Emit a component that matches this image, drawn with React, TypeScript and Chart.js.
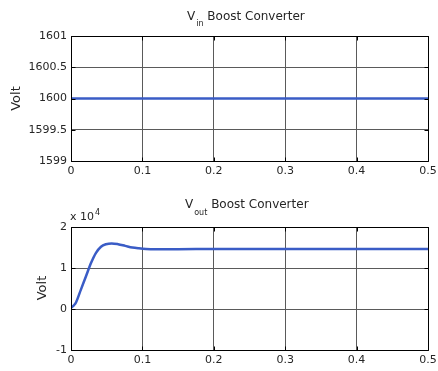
import React, { useEffect, useRef } from "react";
import { Chart, registerables } from "chart.js";

Chart.register(...registerables);

// ---- data ----
const timeTicks = [0, 0.1, 0.2, 0.3, 0.4, 0.5];

const vinTime = [0, 0.1, 0.2, 0.3, 0.4, 0.5];
const vinVolts = [1600, 1600, 1600, 1600, 1600, 1600];
const vinTicks = [1599, 1599.5, 1600, 1600.5, 1601];

const voutTime = [
  0, 0.004, 0.007, 0.014, 0.021, 0.028, 0.035, 0.042, 0.049, 0.057, 0.066,
  0.076, 0.086, 0.095, 0.105, 0.12, 0.15, 0.2, 0.3, 0.4, 0.5,
];
const voutVolts = [
  300, 900, 1600, 4800, 8000, 11200, 13700, 15200, 15800, 16000, 15800,
  15400, 15000, 14800, 14650, 14600, 14600, 14650, 14650, 14650, 14650,
];
const voutTicks = [-10000, 0, 10000, 20000];

// ---- styling ----
const FONT = "'DejaVu Sans', 'Liberation Sans', sans-serif";
const TEXT = "#262626";
const LINE = "#3a5cc6";
const GRID = "#5a5a5a";

type PanelSpec = {
  xs: number[];
  ys: number[];
  yMin: number;
  yMax: number;
  yTicks: number[];
  yLabel: (v: number) => string;
  padTop: number;
  xAxisH: number;
  titleSub: string;
  titleX: number;
  titleBase: number;
  subBase: number;
  voltX: number;
  voltY: number;
  exponent?: boolean;
};

function framePlugin(p: PanelSpec) {
  return {
    id: "frame",
    afterDraw(chart: any) {
      const ctx: CanvasRenderingContext2D = chart.ctx;
      const a = chart.chartArea;
      const xs = chart.scales.x;
      const ys = chart.scales.y;
      const L = Math.round(a.left) + 0.5;
      const R = Math.round(a.right) + 0.5;
      const T = Math.round(a.top) + 0.5;
      const B = Math.round(a.bottom) + 0.5;
      ctx.save();
      ctx.strokeStyle = "#000";
      ctx.lineWidth = 1;
      ctx.beginPath();
      ctx.rect(L, T, R - L, B - T);
      // inward tick marks
      for (const t of timeTicks) {
        const x = Math.round(xs.getPixelForValue(t)) + 0.5;
        ctx.moveTo(x, B);
        ctx.lineTo(x, B - 4);
        ctx.moveTo(x, T);
        ctx.lineTo(x, T + 4);
      }
      for (const t of p.yTicks) {
        const y = Math.round(ys.getPixelForValue(t)) + 0.5;
        ctx.moveTo(L, y);
        ctx.lineTo(L + 4, y);
        ctx.moveTo(R, y);
        ctx.lineTo(R - 4, y);
      }
      ctx.stroke();

      // title with subscript
      ctx.fillStyle = TEXT;
      ctx.textBaseline = "alphabetic";
      ctx.textAlign = "left";
      ctx.font = `12px ${FONT}`;
      let x = p.titleX;
      ctx.fillText("V", x, p.titleBase);
      x += ctx.measureText("V").width + 1;
      ctx.font = `8px ${FONT}`;
      ctx.fillText(p.titleSub, x, p.subBase);
      x += ctx.measureText(p.titleSub).width;
      ctx.font = `12px ${FONT}`;
      ctx.fillText(" Boost Converter", x, p.titleBase);

      // y label
      ctx.save();
      ctx.translate(p.voltX, p.voltY);
      ctx.rotate(-Math.PI / 2);
      ctx.textAlign = "center";
      ctx.textBaseline = "middle";
      ctx.font = `13px ${FONT}`;
      ctx.fillText("Volt", 0, 0);
      ctx.restore();

      // exponent
      if (p.exponent) {
        ctx.textAlign = "left";
        ctx.textBaseline = "alphabetic";
        ctx.font = `11px ${FONT}`;
        ctx.fillText("x 10", 70, 30);
        const w = ctx.measureText("x 10").width;
        ctx.font = `8px ${FONT}`;
        ctx.fillText("4", 70 + w + 1, 25);
      }
      ctx.restore();
    },
  };
}

function makeConfig(p: PanelSpec): any {
  const tickFont = { family: FONT, size: 11 };
  return {
    type: "line",
    data: {
      datasets: [
        {
          data: p.xs.map((x, i) => ({ x, y: p.ys[i] })),
          borderColor: LINE,
          borderWidth: 2.5,
          pointRadius: 0,
          cubicInterpolationMode: "monotone",
          fill: false,
        },
      ],
    },
    options: {
      responsive: false,
      maintainAspectRatio: false,
      animation: false,
      devicePixelRatio: 1,
      layout: { padding: { top: p.padTop, right: 10, left: 0, bottom: 0 } },
      plugins: {
        legend: { display: false },
        tooltip: { enabled: false },
        title: { display: false },
      },
      scales: {
        x: {
          type: "linear",
          min: 0,
          max: 0.5,
          afterBuildTicks: (s: any) => {
            s.ticks = timeTicks.map((v) => ({ value: v }));
          },
          afterFit: (s: any) => {
            s.height = p.xAxisH;
            s.paddingRight = 0;
            s.paddingLeft = 0;
          },
          ticks: {
            padding: 4,
            font: tickFont,
            color: TEXT,
            maxRotation: 0,
            autoSkip: false,
            callback: (v: number) => String(v),
          },
          grid: { color: GRID, lineWidth: 1, drawTicks: false },
          border: { display: false },
        },
        y: {
          type: "linear",
          min: p.yMin,
          max: p.yMax,
          afterBuildTicks: (s: any) => {
            s.ticks = p.yTicks.map((v) => ({ value: v }));
          },
          afterFit: (s: any) => {
            s.width = 71;
          },
          ticks: {
            padding: 4,
            font: tickFont,
            color: TEXT,
            autoSkip: false,
            callback: (v: number) => p.yLabel(v),
          },
          grid: { color: GRID, lineWidth: 1, drawTicks: false },
          border: { display: false },
        },
      },
    },
    plugins: [framePlugin(p)],
  };
}

const topSpec: PanelSpec = {
  xs: vinTime,
  ys: vinVolts,
  yMin: 1599,
  yMax: 1601,
  yTicks: vinTicks,
  yLabel: (v) => String(v),
  padTop: 36,
  xAxisH: 29,
  titleSub: "in",
  titleX: 187,
  titleBase: 20,
  subBase: 26,
  voltX: 17,
  voltY: 98.5,
};

const bottomSpec: PanelSpec = {
  xs: voutTime,
  ys: voutVolts,
  yMin: -10000,
  yMax: 20000,
  yTicks: voutTicks,
  yLabel: (v) => String(v / 10000),
  padTop: 37,
  xAxisH: 21,
  titleSub: "out",
  titleX: 185,
  titleBase: 18,
  subBase: 25,
  voltX: 43,
  voltY: 98,
  exponent: true,
};

function Panel({ spec, top, height }: { spec: PanelSpec; top: number; height: number }) {
  const ref = useRef<HTMLCanvasElement>(null);
  useEffect(() => {
    const chart = new Chart(ref.current as HTMLCanvasElement, makeConfig(spec));
    return () => chart.destroy();
  }, []);
  return (
    <canvas
      ref={ref}
      width={438}
      height={height}
      style={{ position: "absolute", left: 0, top, width: 438, height, display: "block" }}
    />
  );
}

export default function App() {
  return (
    <div style={{ position: "absolute", left: 0, top: 0, width: 438, height: 371, background: "#fff" }}>
      <Panel spec={topSpec} top={0} height={190} />
      <Panel spec={bottomSpec} top={190} height={181} />
    </div>
  );
}
